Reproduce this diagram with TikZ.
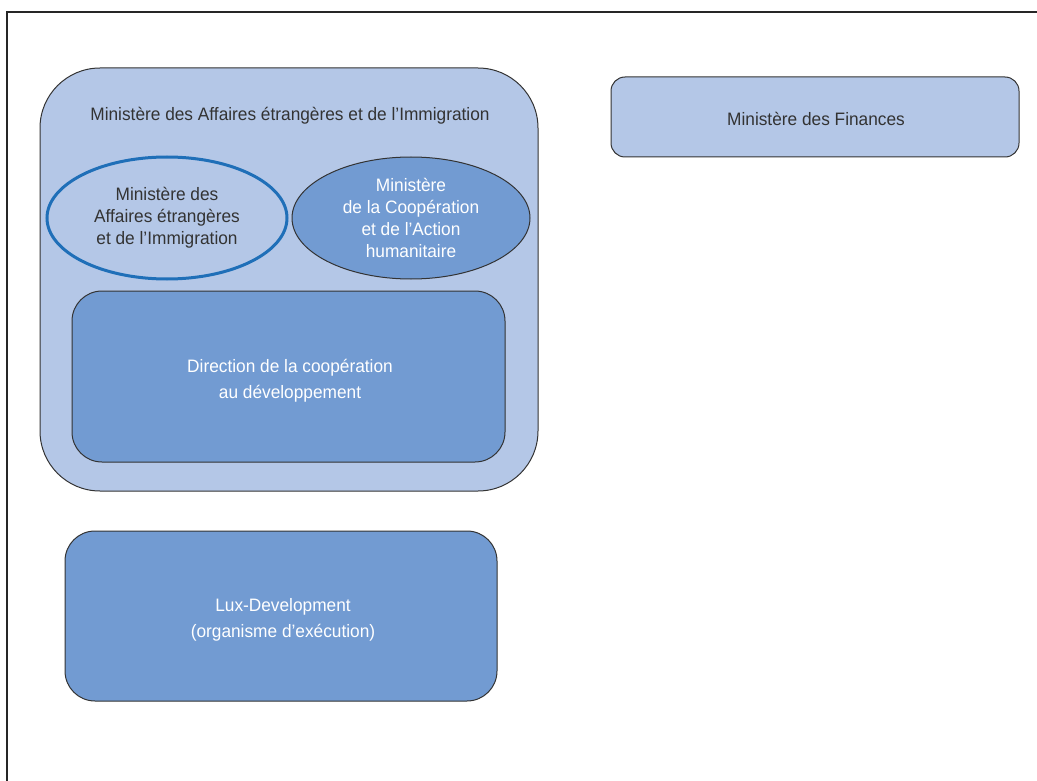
\documentclass[tikz,border=0pt]{standalone}
\usepackage{fontspec}
\setmainfont{Liberation Sans}[FakeStretch=0.96]
\usetikzlibrary{shapes.geometric}
\definecolor{lightblue}{HTML}{B4C7E7}
\definecolor{midblue}{HTML}{729BD2}
\definecolor{ringblue}{HTML}{1F6FB8}
\definecolor{inkgray}{HTML}{333333}
\begin{document}
\begin{tikzpicture}[x=1pt,y=-1pt,
  every node/.style={font=\fontsize{18}{22}\selectfont, align=center, inner sep=0pt},
  boxtext/.style={font=\fontsize{18}{26}\selectfont},
  edge/.style={draw=inkgray, line width=1pt},
  lightbox/.style={edge, fill=lightblue, text=inkgray},
  darkbox/.style={edge, fill=midblue, text=white},
]
\useasboundingbox (0,0) rectangle (1037,781);
% frame
\draw[line width=1.4pt, draw=black!85] (7,800) -- (7,12) -- (1050,12);

% ministry of foreign affairs (outer container)
\draw[lightbox, rounded corners=60pt] (40,68) rectangle (538,491);
\node[text=inkgray] (mae) at (290,116) {Ministère des Affaires étrangères et de l’Immigration};

% ministry of finance
\draw[lightbox, rounded corners=14pt] (611,77) rectangle (1019,157);
\node[text=inkgray] (fin) at (816,119) {Ministère des Finances};

% two ministries inside
\node[ellipse, draw=ringblue, line width=3pt, minimum width=240pt, minimum height=122pt, text=inkgray] (maei) at (167,218)
  {Ministère des\\Affaires étrangères\\et de l’Immigration};
\node[ellipse, edge, fill=midblue, minimum width=238pt, minimum height=122pt, text=white] (coop) at (411,218)
  {Ministère\\de la Coopération\\et de l’Action\\humanitaire};

% directorate
\draw[darkbox, rounded corners=30pt] (72,291) rectangle (505,462);
\node[boxtext, text=white] (dcd) at (290,381) {Direction de la coopération\\au développement};

% executing agency
\draw[darkbox, rounded corners=30pt] (65,531) rectangle (497,701);
\node[boxtext, text=white] (lux) at (283,620) {Lux-Development\\(organisme d’exécution)};
\end{tikzpicture}
\end{document}
